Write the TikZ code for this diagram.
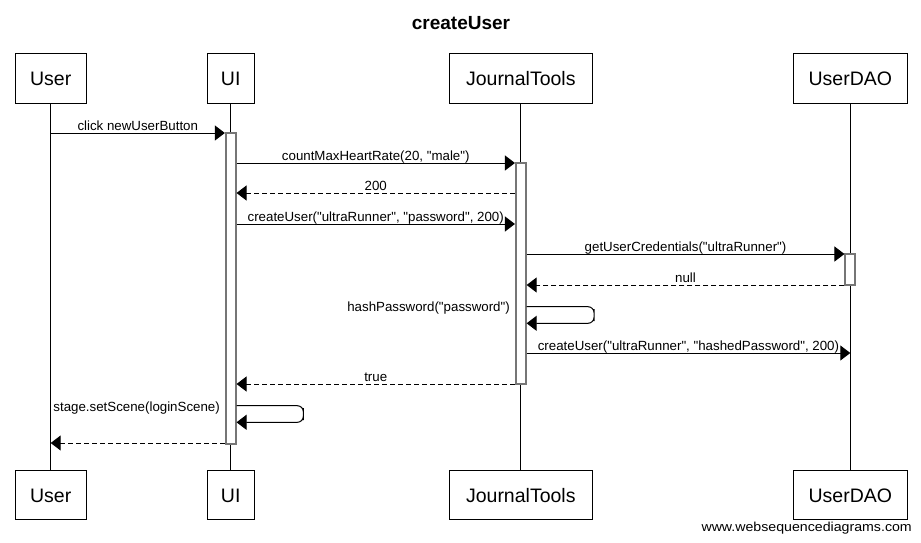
\documentclass[tikz,border=0pt]{standalone}
\usepackage{fontspec}
\usepackage{graphicx}
\setmainfont{Liberation Sans}[Ligatures=TeXOff]
\usetikzlibrary{arrows.meta}
\begin{document}
\begin{tikzpicture}[x=1pt,y=-1pt,
 part/.style={draw, line width=1pt, inner sep=0pt, font=\fontsize{19.5}{20}\selectfont, text height=14pt, text depth=0pt, minimum height=49pt},
 life/.style={line width=1pt},
 act/.style={draw={rgb,255:red,118;green,118;blue,118}, line width=1.7pt, fill=white, minimum width=10pt, inner sep=0pt},
 msg/.style={line width=1pt, -{Triangle[length=10pt,width=15pt]}},
 ret/.style={msg, dash pattern=on 5pt off 3pt},
 lbl/.style={font=\fontsize{13.3}{14}\selectfont, anchor=base, yshift=3pt, inner sep=0pt},
 slbl/.style={font=\fontsize{13.3}{14}\selectfont, anchor=base east, inner sep=0pt}]
\useasboundingbox (0,0) rectangle (921,543);
\fill[white] (0,0) rectangle (921,543);

\node[font=\bfseries\fontsize{19}{20}\selectfont, anchor=base, inner sep=0pt] (title) at (461,29.3) {createUser};

% participants
\node[part, minimum width=71.4pt]  (uT) at (50.7,78.5)  {User};
\node[part, minimum width=47.2pt]  (iT) at (230.7,78.5) {UI};
\node[part, minimum width=143pt]   (jT) at (520.8,78.5) {JournalTools};
\node[part, minimum width=113.4pt] (dT) at (850.3,78.5) {UserDAO};
\node[part, minimum width=71.4pt]  (uB) at (50.7,495)   {User};
\node[part, minimum width=47.2pt]  (iB) at (230.7,495)  {UI};
\node[part, minimum width=143pt]   (jB) at (520.8,495)  {JournalTools};
\node[part, minimum width=113.4pt] (dB) at (850.3,495)  {UserDAO};

% lifelines
\draw[life] (uT.south) -- (uB.north);
\draw[life] (iT.south) -- (iB.north);
\draw[life] (jT.south) -- (jB.north);
\draw[life] (dT.south) -- (dB.north);

% activation bars
\node[act, minimum height=311pt] (uiA) at (230.7,288.5) {};
\node[act, minimum height=221pt] (jtA) at (520.8,273.5) {};
\node[act, minimum height=31pt]  (daoA) at (850.3,269.5) {};

% messages
\draw[msg] (uT.south |- 0,133) -- node[lbl] {click newUserButton} (uiA.west |- 0,133);
\draw[msg] (uiA.east |- 0,163) -- node[lbl] {countMaxHeartRate(20, "male")} (jtA.west |- 0,163);
\draw[ret] (jtA.west |- 0,193) -- node[lbl] {200} (uiA.east |- 0,193);
\draw[msg] (uiA.east |- 0,224) -- node[lbl] {createUser("ultraRunner", "password", 200)} (jtA.west |- 0,224);
\draw[msg] (jtA.east |- 0,254) -- node[lbl] {getUserCredentials("ultraRunner")} (daoA.west |- 0,254);
\draw[ret] (daoA.west |- 0,285) -- node[lbl] {null} (jtA.east |- 0,285);

\coordinate (s1r) at (594,315);
\draw[msg, rounded corners=6pt] (jtA.east |- 0,306.7) -| (s1r) |- (jtA.east |- 0,323.3);
\node[slbl] (l7) at (510,311.5) {hashPassword("password")};

\draw[msg] (jtA.east |- 0,353) -- node[lbl] {createUser("ultraRunner", "hashedPassword", 200)} (dT.south |- 0,353);
\draw[ret] (jtA.west |- 0,384) -- node[lbl] {true} (uiA.east |- 0,384);

\coordinate (s2r) at (303.3,414);
\draw[msg, rounded corners=6pt] (uiA.east |- 0,405.7) -| (s2r) |- (uiA.east |- 0,422.3);
\node[slbl] (l10) at (220,411.5) {stage.setScene(loginScene)};

\draw[ret] (uiA.west |- 0,443) -- (uT.south |- 0,443);

\node[anchor=base east, inner sep=0pt, font=\fontsize{13}{14}\selectfont] (wm) at (912,531.5) {\scalebox{1.09}[1]{www.websequencediagrams.com}};
\end{tikzpicture}
\end{document}
